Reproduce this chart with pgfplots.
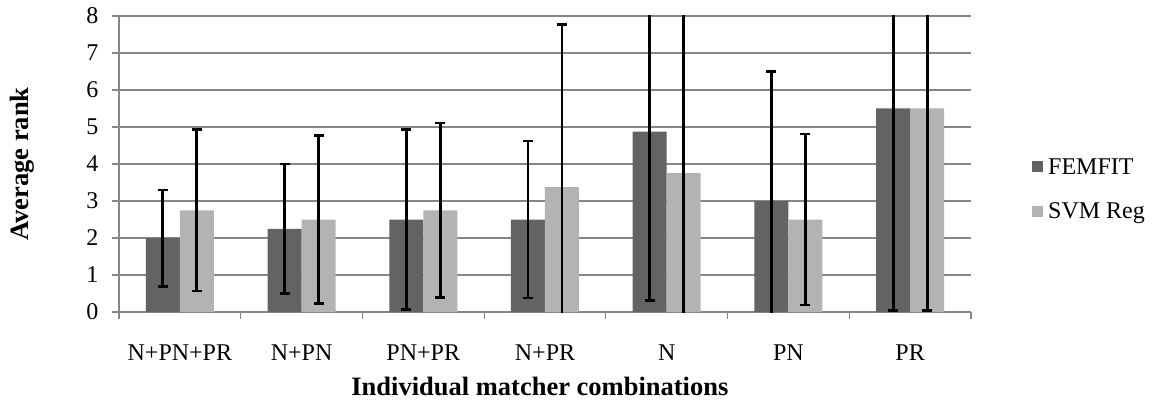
\documentclass[border=0pt]{standalone}
\usepackage{fontspec}
\setmainfont{Liberation Serif}
\usepackage{pgfplots}
\pgfplotsset{compat=1.18}
\definecolor{femfit}{RGB}{99,99,99}
\definecolor{svm}{RGB}{179,179,179}
\definecolor{gridc}{RGB}{134,134,134}
\begin{document}
\begin{tikzpicture}
\begin{axis}[name=ax, scale only axis, width=852pt, height=296pt,
  xmin=-0.5, xmax=6.5, ymin=0, ymax=8,
  ybar=0pt, bar width=34pt,
  axis lines*=left, axis line style={-, draw=gridc, line width=1.2pt},
  tick align=outside, major tick length=7pt,
  ytick={0,1,2,3,4,5,6,7,8}, yticklabels={0,1,2,3,4,5,6,7,8},
  ymajorgrids, grid style={gridc, line width=1.2pt},
  ytick style={draw=gridc, line width=1.2pt},
  xtick={0,1,2,3,4,5,6}, xticklabels={N+PN+PR,N+PN,PN+PR,N+PR,N,PN,PR},
  xtick style={draw=none},
  extra x ticks={-0.5,0.5,1.5,2.5,3.5,4.5,5.5,6.5}, extra x tick labels={},
  extra x tick style={grid=none, xtick style={draw=gridc, line width=1.2pt}},
  tick label style={font=\fontsize{24}{28}\selectfont},
  xticklabel style={yshift=-22pt},
  yticklabel style={xshift=-10pt},
  ylabel={Average rank}, xlabel={Individual matcher combinations},
  label style={font=\fontsize{26.5}{30}\selectfont\bfseries},
  ylabel style={at={(axis description cs:-0.1138,0.5)}, anchor=center},
  xlabel style={at={(axis description cs:0.494,-0.25)}, anchor=center},
  legend image code/.code={\fill[#1] (0pt,-5.5pt) rectangle (11pt,5.5pt); \path (14pt,0pt);},
  legend style={at={(axis description cs:1.0716,0.415)}, anchor=west, draw=none, fill=none,
    inner sep=0pt, font=\fontsize{24}{28}\selectfont, row sep=23pt},
  legend cell align=left,
  error bars/error bar style={black, line width=2.8pt},
  error bars/error mark options={black, line width=2.8pt, mark size=5pt, rotate=90},
]
\addplot[fill=femfit, draw=none, error bars/.cd, y dir=both, y explicit] coordinates {
  (0,2.0) +- (0,1.3)
  (1,2.25) +- (0,1.75)
  (2,2.5) +- (0,2.44)
  (3,2.5) +- (0,2.12)
  (4,4.875) +- (0,4.57)
  (5,3.0) +- (0,3.5)
  (6,5.5) +- (0,5.45)
};
\addplot[fill=svm, draw=none, error bars/.cd, y dir=both, y explicit] coordinates {
  (0,2.75) +- (0,2.18)
  (1,2.5) +- (0,2.26)
  (2,2.75) +- (0,2.36)
  (3,3.375) +- (0,4.4)
  (4,3.75) +- (0,4.6)
  (5,2.5) +- (0,2.31)
  (6,5.5) +- (0,5.45)
};
\legend{FEMFIT, SVM Reg}
\end{axis}
\pgfresetboundingbox
\path (ax.south west) ++(-119pt,-90pt) rectangle ++(1157pt,402pt);
\end{tikzpicture}
\end{document}
